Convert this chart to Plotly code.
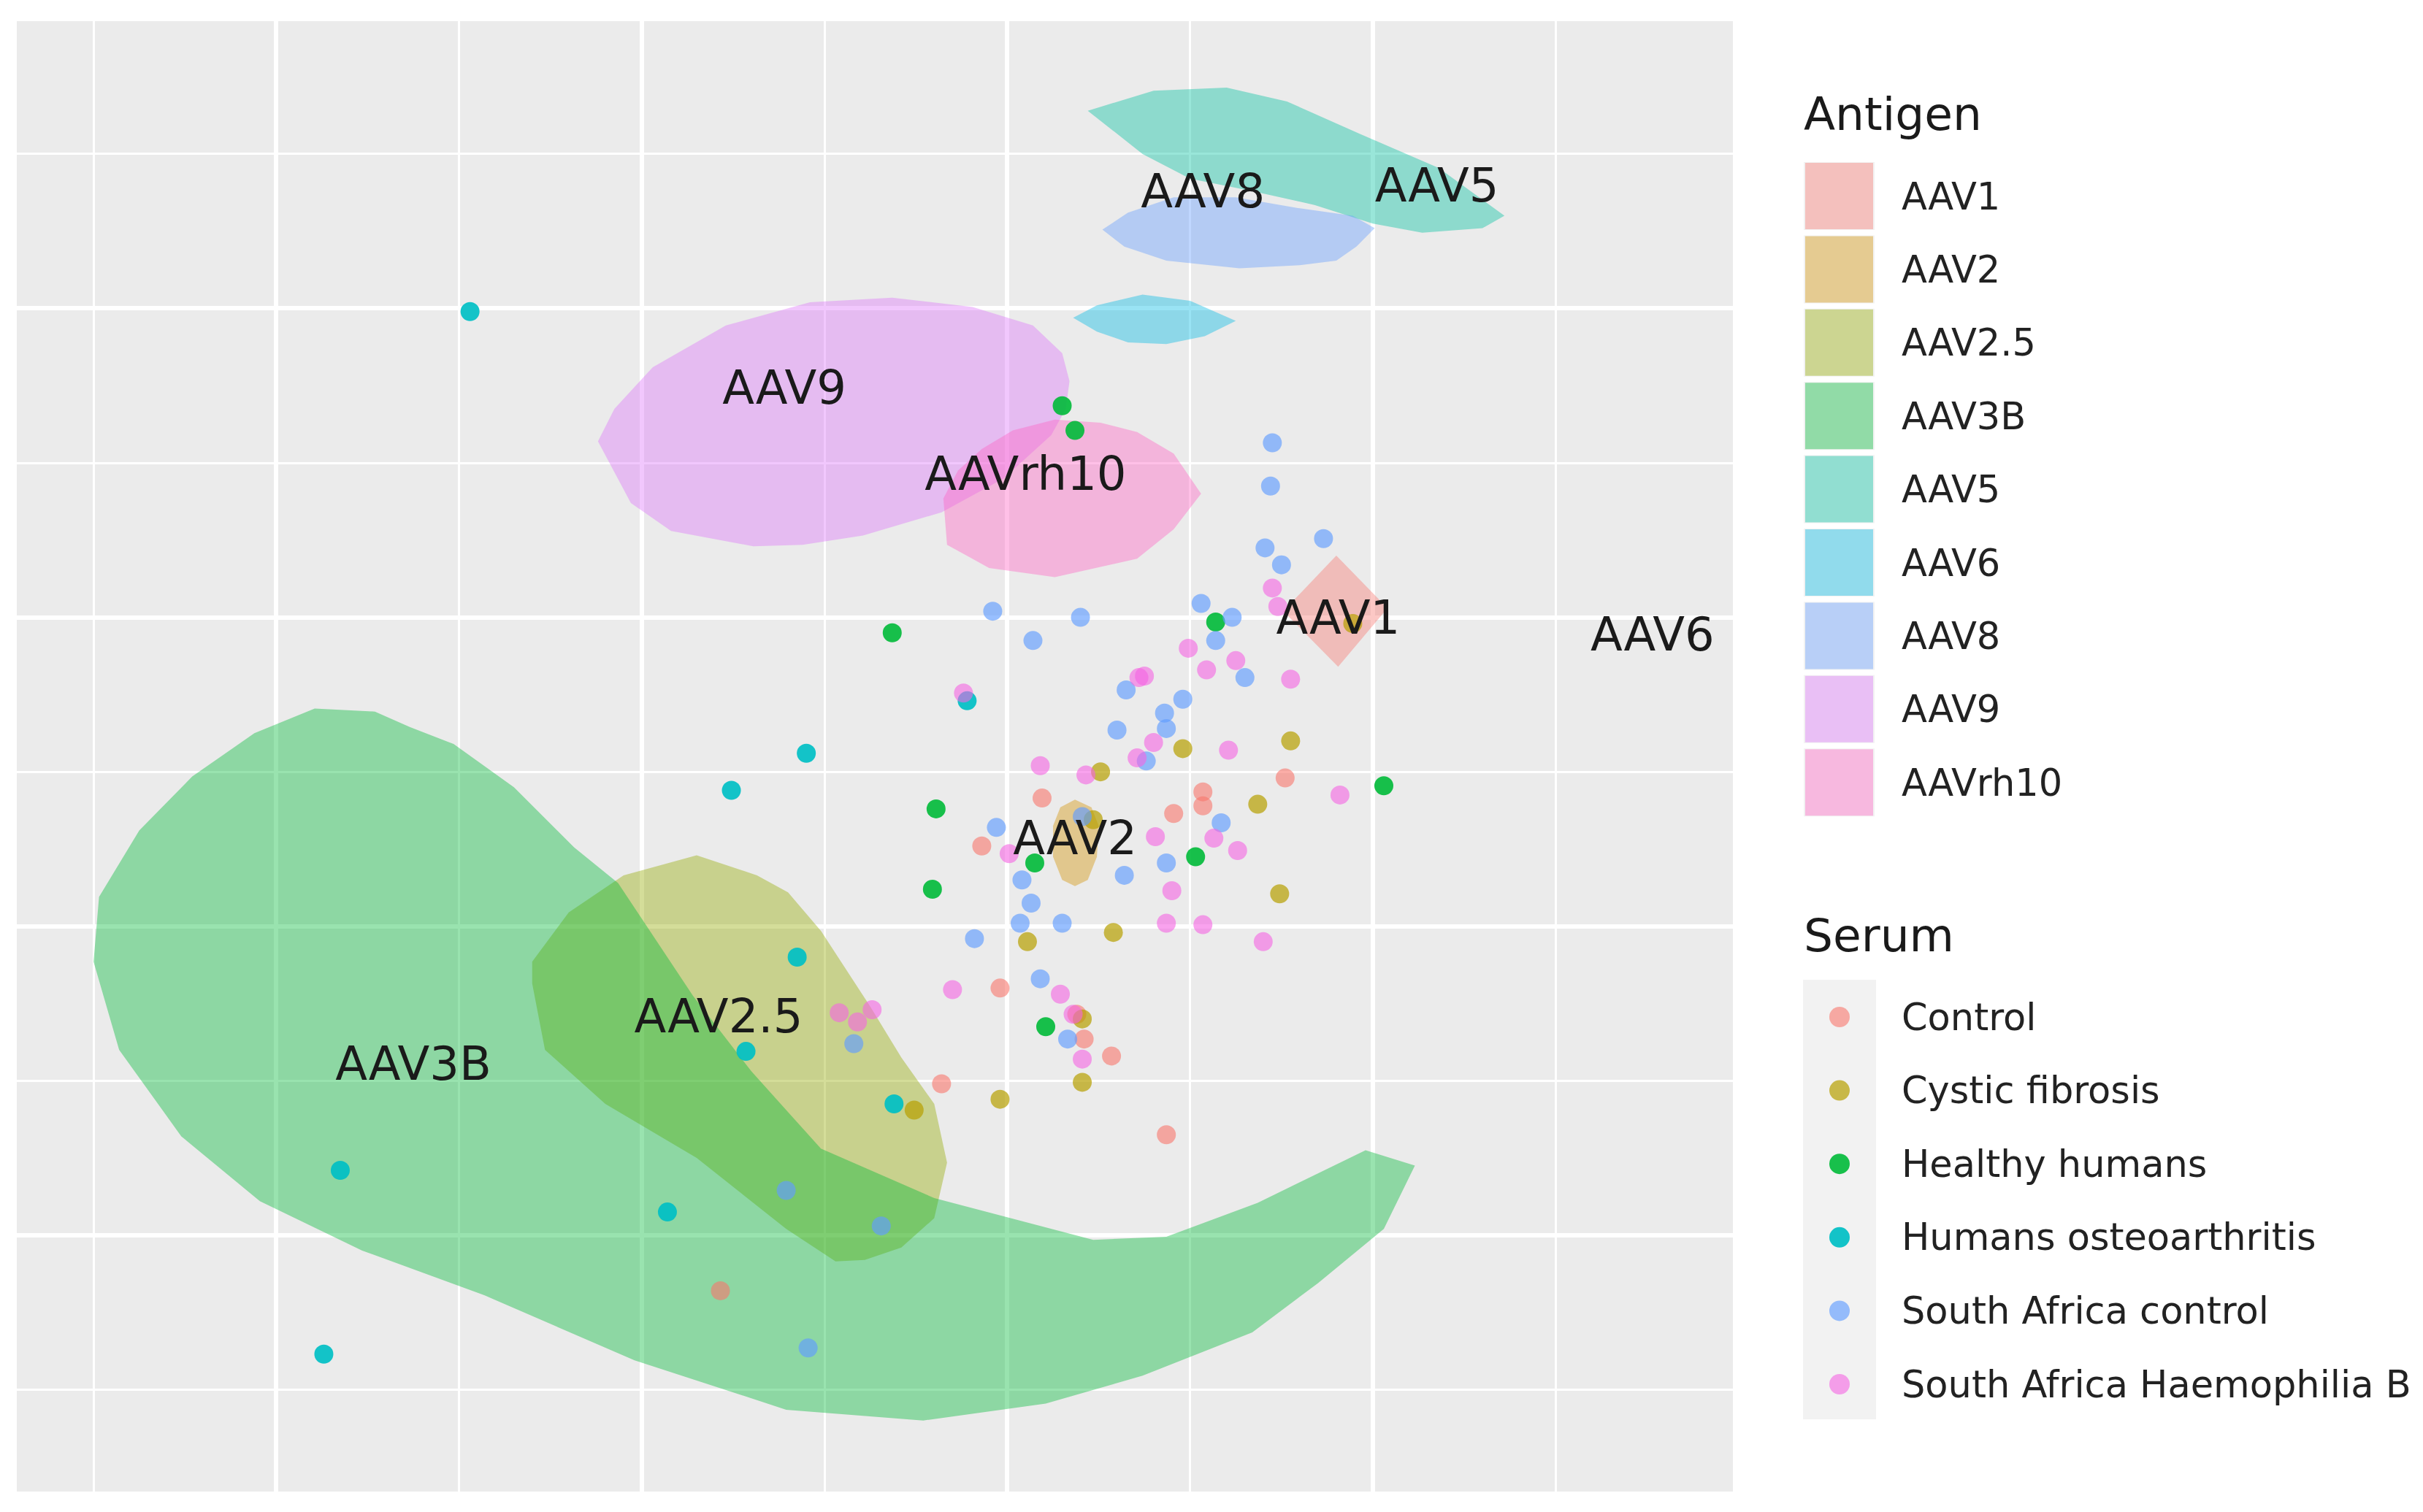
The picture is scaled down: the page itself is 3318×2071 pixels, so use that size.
import plotly.graph_objects as go

W, H = 3318, 2071

# ---- serum points (antigenic map coordinates) ----
control_x = [0.19, -0.14, 0.91, 1.07, 1.07, 1.52, -0.04, -0.36, 0.42, 0.57, 0.87, -1.57, 0.38]
control_y = [0.83, 0.52, 0.73, 0.87, 0.78, 0.96, -0.40, -1.02, -0.73, -0.84, -1.35, -2.36, -0.57]

cystic_x = [1.55, 0.96, 0.51, 0.47, 1.37, 1.49, 0.58, 0.11, 0.41, 0.41, -0.04, -0.51, 1.89]
cystic_y = [1.20, 1.15, 1.00, 0.69, 0.79, 0.21, -0.04, -0.10, -0.60, -1.01, -1.12, -1.19, 1.96]

healthy_x = [0.30, 0.37, -0.63, 1.14, -0.39, -0.41, 0.15, 1.03, 2.06, 0.21]
healthy_y = [3.37, 3.21, 1.90, 1.97, 0.76, 0.24, 0.41, 0.45, 0.91, -0.65]

osteo_x = [-2.94, -0.22, -1.10, -1.51, -1.15, -1.43, -0.62, -3.65, -1.86, -3.74]
osteo_y = [3.98, 1.46, 1.12, 0.88, -0.20, -0.81, -1.15, -1.58, -1.85, -2.77]

sa_control_x = [1.45, 1.44, 1.73, 1.41, 1.50, 1.06, 1.23, 1.14, -0.08, 0.40, 0.14,
                1.30, 0.65, 0.96, 0.86, 0.87, 0.60, 0.76, -0.06, 1.17, 0.08, 0.13,
                0.07, 0.30, 0.64, 0.87, -0.18, 0.18, 0.33, -0.84, -1.21, -0.69, -1.09, 0.41]
sa_control_y = [3.13, 2.85, 2.51, 2.45, 2.34, 2.09, 2.00, 1.85, 2.04, 2.00, 1.85,
                1.61, 1.53, 1.47, 1.38, 1.28, 1.27, 1.07, 0.64, 0.67, 0.30, 0.15,
                0.02, 0.02, 0.33, 0.41, -0.08, -0.34, -0.73, -0.76, -1.71, -1.94, -2.73, 0.71]

sa_haemo_x = [1.45, 1.48, 0.99, 1.09, 1.25, 1.55, 0.72, 1.21, 0.80, 0.18, 0.43, 0.71,
              1.82, 0.81, 1.13, 1.26, 0.01, 0.90, 0.87, 1.07, 1.40, -0.30, 0.29, 0.36,
              0.41, -0.92, -0.74, -0.82, -0.24, 0.75]
sa_haemo_y = [2.19, 2.07, 1.80, 1.66, 1.72, 1.60, 1.61, 1.14, 1.19, 1.04, 0.98, 1.09,
              0.85, 0.58, 0.57, 0.49, 0.47, 0.23, 0.02, 0.01, -0.10, -0.41, -0.44, -0.57,
              -0.86, -0.56, -0.54, -0.62, 1.51, 1.62]

serum_names = ["Control", "Cystic fibrosis", "Healthy humans", "Humans osteoarthritis",
               "South Africa control", "South Africa Haemophilia B"]
serum_colors = ["#F8766D", "#B79F00", "#00BA38", "#00BFC4", "#619CFF", "#F564E3"]
serum_alpha = [0.6, 0.7, 0.9, 0.92, 0.65, 0.6]
serum_x = [control_x, cystic_x, healthy_x, osteo_x, sa_control_x, sa_haemo_x]
serum_y = [control_y, cystic_y, healthy_y, osteo_y, sa_control_y, sa_haemo_y]

# ---- antigen regions (outline vertices) ----
antigen_names = ["AAV1", "AAV2", "AAV2.5", "AAV3B", "AAV5", "AAV6", "AAV8", "AAV9", "AAVrh10"]
antigen_colors = ["#F8766D", "#D39200", "#93AA00", "#00BA38", "#00C19F",
                  "#00B9E3", "#619CFF", "#DB72FB", "#FF61C3"]
regions = {
    "AAV1": ([1.80, 2.08, 1.81, 1.51], [2.40, 2.06, 1.68, 2.04]),
    "AAV2": ([0.37, 0.46, 0.50, 0.49, 0.44, 0.37, 0.30, 0.25, 0.25, 0.29],
             [0.82, 0.77, 0.65, 0.45, 0.30, 0.26, 0.30, 0.45, 0.65, 0.77]),
    "AAV2.5": ([-1.70, -1.37, -1.20, -1.02, -0.75, -0.58, -0.40, -0.33, -0.40, -0.58,
                -0.78, -0.94, -1.21, -1.70, -2.20, -2.53, -2.60, -2.60, -2.40, -2.10],
               [0.46, 0.33, 0.22, -0.03, -0.52, -0.85, -1.15, -1.53, -1.89, -2.08,
                -2.16, -2.17, -1.96, -1.50, -1.15, -0.80, -0.37, -0.23, 0.09, 0.33]),
    "AAV3B": ([-2.13, -1.72, -1.40, -1.02, -0.40, 0.47, 0.87, 1.37, 1.96, 2.23, 2.06, 1.70,
               1.34, 0.74, 0.21, -0.46, -1.21, -2.04, -2.86, -3.53, -4.09, -4.52, -4.86,
               -5.00, -4.97, -4.75, -4.46, -4.12, -3.79, -3.46, -3.27, -3.03, -2.70, -2.37],
              [0.28, -0.45, -0.94, -1.44, -1.76, -2.03, -2.01, -1.79, -1.45, -1.55, -1.96, -2.31,
               -2.63, -2.91, -3.09, -3.20, -3.13, -2.81, -2.39, -2.10, -1.78, -1.36, -0.80,
               -0.23, 0.19, 0.62, 0.97, 1.25, 1.41, 1.39, 1.29, 1.18, 0.90, 0.51]),
    "AAV5": ([0.44, 0.80, 1.20, 1.53, 1.93, 2.36, 2.72, 2.60, 2.27, 2.00, 1.68, 1.34, 1.00, 0.74],
             [5.28, 5.41, 5.43, 5.34, 5.13, 4.91, 4.60, 4.52, 4.49, 4.55, 4.67, 4.76, 4.84, 5.00]),
    "AAV6": ([0.36, 0.49, 0.74, 1.00, 1.25, 1.08, 0.87, 0.66, 0.49],
             [3.94, 4.02, 4.09, 4.05, 3.92, 3.82, 3.77, 3.78, 3.85]),
    "AAV8": ([0.52, 0.66, 0.91, 1.25, 1.59, 1.89, 2.01, 1.91, 1.80, 1.60, 1.27, 0.87, 0.64],
             [4.51, 4.62, 4.72, 4.72, 4.65, 4.60, 4.52, 4.40, 4.31, 4.28, 4.26, 4.31, 4.40]),
    "AAV9": ([-2.24, -2.15, -1.94, -1.54, -1.08, -0.63, -0.19, 0.14, 0.30, 0.34, 0.32, 0.24,
              -0.02, -0.36, -0.79, -1.12, -1.39, -1.84, -2.06],
             [3.14, 3.35, 3.62, 3.89, 4.04, 4.07, 4.01, 3.89, 3.71, 3.53, 3.35, 3.18,
              2.90, 2.68, 2.53, 2.47, 2.46, 2.56, 2.74]),
    "AAVrh10": ([0.26, 0.51, 0.71, 0.91, 1.06, 0.91, 0.71, 0.26, -0.10, -0.33, -0.35, -0.27, -0.14, 0.03],
                [3.28, 3.26, 3.20, 3.06, 2.80, 2.57, 2.38, 2.26, 2.32, 2.47, 2.77, 2.95, 3.09, 3.21]),
}

# antigen name labels
label_names = ["AAV5", "AAV8", "AAV9", "AAVrh10", "AAV1", "AAV6", "AAV2", "AAV2.5", "AAV3B"]
label_x = [2.35, 1.07, -1.22, 0.10, 1.81, 3.53, 0.37, -1.58, -3.25]
label_y = [4.77, 4.73, 3.46, 2.90, 1.97, 1.86, 0.54, -0.61, -0.92]


def rgba(hex_color, a):
    h = hex_color.lstrip("#")
    r, g, b = int(h[0:2], 16), int(h[2:4], 16), int(h[4:6], 16)
    return f"rgba({r},{g},{b},{a})"


FONT = "DejaVu Sans"
fig = go.Figure()

for name, col in zip(antigen_names, antigen_colors):
    xs, ys = regions[name]
    fig.add_trace(go.Scatter(
        x=xs + xs[:1], y=ys + ys[:1], mode="lines", fill="toself",
        fillcolor=rgba(col, 0.4), line=dict(width=0), name=name,
        showlegend=False, hoverinfo="skip"))

for name, col, a, xs, ys in zip(serum_names, serum_colors, serum_alpha, serum_x, serum_y):
    fig.add_trace(go.Scatter(
        x=xs, y=ys, mode="markers", name=name, showlegend=False,
        marker=dict(size=26, color=rgba(col, a), line=dict(width=0))))

fig.add_trace(go.Scatter(
    x=label_x, y=label_y, mode="text", text=label_names, showlegend=False,
    textfont=dict(family=FONT, size=64, color="#1a1a1a"), hoverinfo="skip"))

# ---- manual ggplot-style legends (in paper space) ----
def px(v):
    return v / W


def py(v):
    return 1 - v / H


shapes = []
annotations = []

annotations.append(dict(x=px(2468), y=py(157), xref="paper", yref="paper",
                        text="Antigen", showarrow=False, xanchor="left", yanchor="middle",
                        font=dict(family=FONT, size=63, color="#1a1a1a")))
for i, (name, col) in enumerate(zip(antigen_names, antigen_colors)):
    top = 222 + 100.4 * i
    shapes.append(dict(type="rect", xref="paper", yref="paper",
                       x0=px(2470), x1=px(2567), y0=py(top), y1=py(top + 93),
                       fillcolor="#F2F2F2", line=dict(width=0)))
    shapes.append(dict(type="rect", xref="paper", yref="paper",
                       x0=px(2472), x1=px(2565), y0=py(top + 1), y1=py(top + 92),
                       fillcolor=rgba(col, 0.4), line=dict(width=0)))
    annotations.append(dict(x=px(2602), y=py(top + 47), xref="paper", yref="paper",
                            text=name, showarrow=False, xanchor="left", yanchor="middle",
                            font=dict(family=FONT, size=51, color="#222222")))

annotations.append(dict(x=px(2468), y=py(1281), xref="paper", yref="paper",
                        text="Serum", showarrow=False, xanchor="left", yanchor="middle",
                        font=dict(family=FONT, size=63, color="#1a1a1a")))
shapes.append(dict(type="rect", xref="paper", yref="paper",
                   x0=px(2469), x1=px(2569), y0=py(1342), y1=py(1944),
                   fillcolor="#F2F2F2", line=dict(width=0)))
for i, (name, col, a) in enumerate(zip(serum_names, serum_colors, serum_alpha)):
    cy = 1393 + 100.6 * i
    r = 14
    shapes.append(dict(type="circle", xref="paper", yref="paper",
                       x0=px(2519 - r), x1=px(2519 + r), y0=py(cy - r), y1=py(cy + r),
                       fillcolor=rgba(col, a), line=dict(width=0)))
    annotations.append(dict(x=px(2602), y=py(cy), xref="paper", yref="paper",
                            text=name, showarrow=False, xanchor="left", yanchor="middle",
                            font=dict(family=FONT, size=51, color="#222222")))

axis_common = dict(showticklabels=False, ticks="", zeroline=False, showline=False,
                   gridcolor="white", gridwidth=6,
                   minor=dict(dtick=1, showgrid=True, gridcolor="white", gridwidth=3, ticks=""))

fig.update_layout(
    width=W, height=H,
    margin=dict(l=0, r=0, t=0, b=0),
    paper_bgcolor="white", plot_bgcolor="#EBEBEB",
    xaxis=dict(range=[-5.42, 3.97], domain=[23 / W, 2373 / W], dtick=2, tick0=0, **axis_common),
    yaxis=dict(range=[-3.66, 5.86], domain=[1 - 2043 / H, 1 - 29 / H], dtick=2, tick0=0, **axis_common),
    shapes=shapes, annotations=annotations, showlegend=False,
    font=dict(family=FONT),
)

fig.write_html("out.html", config={"displayModeBar": False},
               post_script="document.body.style.margin='0';")
